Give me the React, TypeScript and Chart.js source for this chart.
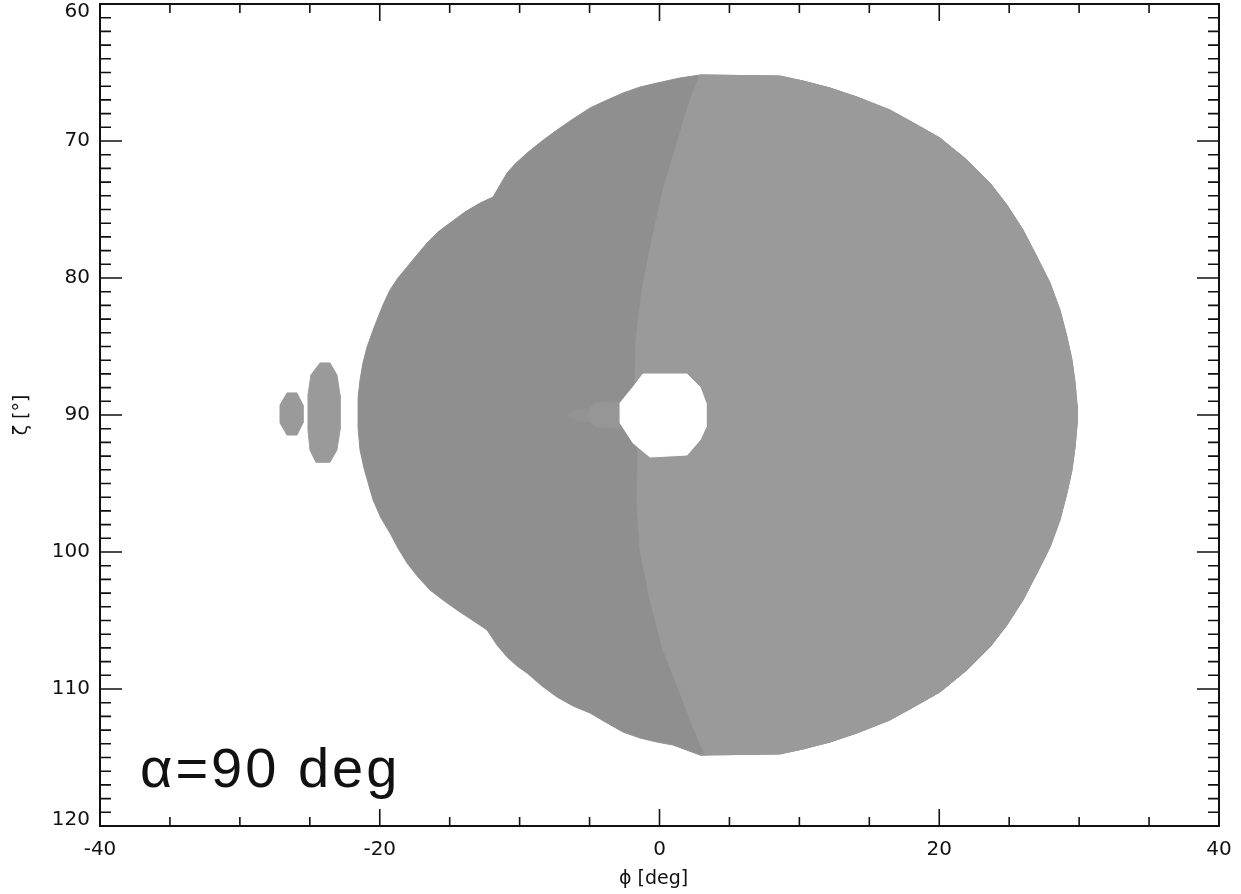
import React, { useEffect, useRef } from 'react';
import { Chart, registerables } from 'chart.js';

Chart.register(...registerables);

// Axis ranges and tick labels
const X_MIN = -40;
const X_MAX = 40;
const Y_MIN = 60;
const Y_MAX = 120;
const xTickLabels = [-40, -20, 0, 20, 40];
const yTickLabels = [60, 70, 80, 90, 100, 110, 120];
const X_MINOR_STEP = 5;
const Y_MINOR_STEP = 1;

const xTitle = 'ϕ [deg]';
const yTitle = 'ζ [°]';
const annotation = 'α=90 deg';

// Right-hand arc of the emission region (shared by outer and light outlines), top -> bottom
const rightArcPhi = [
  2.9, 8.61, 10.26, 12.19, 14.12, 16.48, 18.41, 20.05, 21.98, 23.63, 24.84, 25.99, 26.99, 27.92,
  28.63, 29.13, 29.49, 29.71, 29.85, 29.85, 29.71, 29.49, 29.13, 28.63, 27.92, 26.99, 25.99, 24.84,
  23.63, 21.98, 20.05, 18.41, 16.48, 14.12, 12.19, 10.26, 8.61, 2.9,
];
const rightArcZeta = [
  65.18, 65.26, 65.62, 66.13, 66.79, 67.74, 68.83, 69.78, 71.39, 73.07, 74.67, 76.5, 78.47, 80.36,
  82.34, 84.31, 85.99, 87.66, 89.27, 90.73, 92.34, 94.01, 95.69, 97.66, 99.64, 101.53, 103.5,
  105.33, 106.93, 108.61, 110.22, 111.17, 112.26, 113.21, 113.87, 114.38, 114.74, 114.82,
];

// Left-hand outline of the dark region, bottom -> top
const leftArcPhi = [
  0.97, -0.18, -1.39, -2.61, -3.75, -4.97, -6.18, -7.33, -8.4, -9.47, -10.19, -10.9, -11.62,
  -12.33, -13.4, -14.48, -15.48, -16.41, -17.27, -18.05, -18.7, -19.27, -19.91, -20.48, -21.13,
  -21.41, -21.55, -21.55, -21.55, -21.41, -21.2, -20.91, -20.55, -20.2, -19.77, -19.27, -18.7,
  -18.05, -17.34, -16.62, -15.84, -14.98, -13.91, -12.83, -11.9, -11.4, -10.9, -10.33, -9.47,
  -8.4, -7.33, -6.18, -4.97, -3.75, -2.61, -1.39, -0.18, 1.47, 2.9,
];
const leftArcZeta = [
  114.09, 113.87, 113.58, 113.14, 112.48, 111.75, 111.24, 110.58, 109.78, 108.83, 108.32, 107.66,
  106.79, 105.69, 104.96, 104.23, 103.5, 102.77, 101.82, 100.8, 99.71, 98.61, 97.52, 96.2, 93.87,
  92.55, 90.95, 90.0, 88.76, 87.45, 86.2, 85.04, 84.01, 83.07, 81.97, 80.88, 80.0, 79.2, 78.32,
  77.45, 76.64, 75.99, 75.18, 74.53, 74.09, 73.21, 72.34, 71.68, 70.88, 70.0, 69.2, 68.39, 67.59,
  67.01, 66.5, 66.06, 65.77, 65.4, 65.18,
];

// Dividing arc between the darker and lighter parts, bottom -> top
const divPhi = [
  3.25, 2.4, 1.47, 0.25, -0.68, -1.39, -1.61, -1.54, -1.75, -1.75, -1.68, -1.25, -0.54, 0.25,
  1.32, 2.18, 2.9,
];
const divZeta = [
  114.82, 112.77, 110.29, 107.15, 103.5, 99.85, 96.2, 92.92, 90.0, 86.93, 84.53, 80.88, 77.23,
  73.58, 69.93, 67.01, 65.18,
];

// Central empty hole
const holePhi = [-1.18, 1.97, 2.9, 3.32, 3.32, 2.9, 1.97, -0.68, -1.89, -2.82, -2.82, -1.89, -1.18];
const holeZeta = [87.01, 87.01, 87.96, 89.12, 90.88, 91.82, 92.92, 93.07, 92.04, 90.58, 89.12, 87.96, 87.01];

// Small tail left of the hole
const tailPhi = [-2.82, -4.47, -4.97, -5.11, -4.97, -4.47, -2.82, -2.82];
const tailZeta = [89.05, 89.12, 89.49, 90.0, 90.51, 90.88, 90.95, 89.05];
const tailFaintPhi = [-5.11, -6.0, -6.6, -6.0, -5.11, -5.11];
const tailFaintZeta = [89.5, 89.65, 90.0, 90.35, 90.5, 89.5];

// Two small isolated patches on the left
const blob1Phi = [-26.63, -25.92, -25.49, -25.49, -25.92, -26.63, -27.13, -27.13, -26.63];
const blob1Zeta = [88.39, 88.39, 89.27, 90.58, 91.46, 91.46, 90.58, 89.27, 88.39];
const blob2Phi = [-24.27, -23.56, -23.06, -22.84, -22.84, -23.06, -23.56, -24.56, -24.99, -25.13, -25.13, -24.92, -24.27];
const blob2Zeta = [86.2, 86.2, 87.08, 88.54, 91.09, 92.55, 93.45, 93.45, 92.55, 91.09, 88.54, 87.08, 86.2];

const DARK = '#8f8f8f';
const LIGHT = '#9a9a9a';
const TAIL = '#969696';
const TAIL_FAINT = '#939393';

const toPoints = (xs: number[], ys: number[]) => xs.map((x, i) => ({ x, y: ys[i] }));

const outerPoints = [...toPoints(rightArcPhi, rightArcZeta), ...toPoints(leftArcPhi, leftArcZeta)];
const lightPoints = [...toPoints(rightArcPhi, rightArcZeta), ...toPoints(divPhi, divZeta)];

const shape = (pts: { x: number; y: number }[], color: string, order: number) => ({
  data: pts,
  showLine: true,
  fill: 'shape',
  backgroundColor: color,
  borderColor: color,
  borderWidth: 1,
  pointRadius: 0,
  pointHoverRadius: 0,
  tension: 0,
  order,
});

const TICK_FONT = '20px "DejaVu Sans", sans-serif';
const TITLE_FONT = '19px "DejaVu Sans", sans-serif';
const ANNOT_FONT = '56px "Liberation Sans", Arial, sans-serif';

const axesPlugin = {
  id: 'idlAxes',
  afterDraw(chart: any) {
    const { ctx, chartArea: ca } = chart;
    const xs = chart.scales.x;
    const ys = chart.scales.y;
    ctx.save();
    ctx.strokeStyle = '#111';
    ctx.fillStyle = '#111';

    // ticks
    ctx.lineWidth = 1.6;
    ctx.beginPath();
    for (let v = X_MIN; v <= X_MAX + 1e-9; v += X_MINOR_STEP) {
      const px = xs.getPixelForValue(v);
      const major = xTickLabels.includes(v);
      const len = major ? 17 : 9;
      ctx.moveTo(px, ca.bottom);
      ctx.lineTo(px, ca.bottom - len);
      ctx.moveTo(px, ca.top);
      ctx.lineTo(px, ca.top + len);
    }
    for (let v = Y_MIN; v <= Y_MAX + 1e-9; v += Y_MINOR_STEP) {
      const py = ys.getPixelForValue(v);
      const major = yTickLabels.includes(v);
      const len = major ? 22 : 11;
      ctx.moveTo(ca.left, py);
      ctx.lineTo(ca.left + len, py);
      ctx.moveTo(ca.right, py);
      ctx.lineTo(ca.right - len, py);
    }
    ctx.stroke();

    // frame
    ctx.lineWidth = 2;
    ctx.strokeRect(ca.left, ca.top, ca.right - ca.left, ca.bottom - ca.top);

    // tick labels
    ctx.font = TICK_FONT;
    ctx.textAlign = 'center';
    ctx.textBaseline = 'middle';
    xTickLabels.forEach((v) => {
      ctx.fillText(String(v), xs.getPixelForValue(v), ca.bottom + 24);
    });
    ctx.textAlign = 'right';
    yTickLabels.forEach((v, i) => {
      let py = ys.getPixelForValue(v);
      if (i === 0) py += 7.5;
      if (i === yTickLabels.length - 1) py -= 6.5;
      ctx.fillText(String(v), ca.left - 10, py);
    });

    // axis titles
    ctx.font = TITLE_FONT;
    ctx.textAlign = 'center';
    ctx.fillText(xTitle, (ca.left + ca.right) / 2 - 6, ca.bottom + 53);
    ctx.save();
    ctx.translate(22, ys.getPixelForValue(90));
    ctx.rotate(-Math.PI / 2);
    ctx.fillText(yTitle, 0, 0);
    ctx.restore();

    // annotation
    ctx.font = ANNOT_FONT;
    ctx.textAlign = 'left';
    ctx.textBaseline = 'alphabetic';
    try {
      (ctx as any).letterSpacing = '3px';
    } catch (e) {
      /* ignore */
    }
    ctx.fillText(annotation, ca.left + 40, ca.bottom - 39);

    ctx.restore();
  },
};

export default function App() {
  const canvasRef = useRef<HTMLCanvasElement | null>(null);

  useEffect(() => {
    document.body.style.margin = '0';
    const canvas = canvasRef.current;
    if (!canvas) return;
    const chart = new Chart(canvas, {
      type: 'scatter',
      data: {
        datasets: [
          shape(outerPoints, DARK, 6),
          shape(lightPoints, LIGHT, 5),
          shape(toPoints(tailFaintPhi, tailFaintZeta), TAIL_FAINT, 4),
          shape(toPoints(tailPhi, tailZeta), TAIL, 3),
          shape(toPoints(holePhi, holeZeta), '#ffffff', 2),
          shape(toPoints(blob1Phi, blob1Zeta), LIGHT, 1),
          shape(toPoints(blob2Phi, blob2Zeta), LIGHT, 1),
        ] as any,
      },
      options: {
        animation: false,
        responsive: false,
        maintainAspectRatio: false,
        devicePixelRatio: 1,
        layout: { padding: { top: 4, right: 22, bottom: 0, left: 0 } },
        plugins: {
          legend: { display: false },
          tooltip: { enabled: false },
        },
        events: [],
        scales: {
          x: {
            type: 'linear',
            min: X_MIN,
            max: X_MAX,
            ticks: { display: false },
            grid: { display: false },
            border: { display: false },
            afterFit: (s: any) => {
              s.height = 68;
            },
          },
          y: {
            type: 'linear',
            min: Y_MIN,
            max: Y_MAX,
            reverse: true,
            ticks: { display: false },
            grid: { display: false },
            border: { display: false },
            afterFit: (s: any) => {
              s.width = 100;
            },
          },
        },
      } as any,
      plugins: [axesPlugin],
    });
    return () => chart.destroy();
  }, []);

  return (
    <div style={{ width: 1241, height: 894, background: '#fff' }}>
      <canvas ref={canvasRef} width={1241} height={894} style={{ display: 'block' }} />
    </div>
  );
}
